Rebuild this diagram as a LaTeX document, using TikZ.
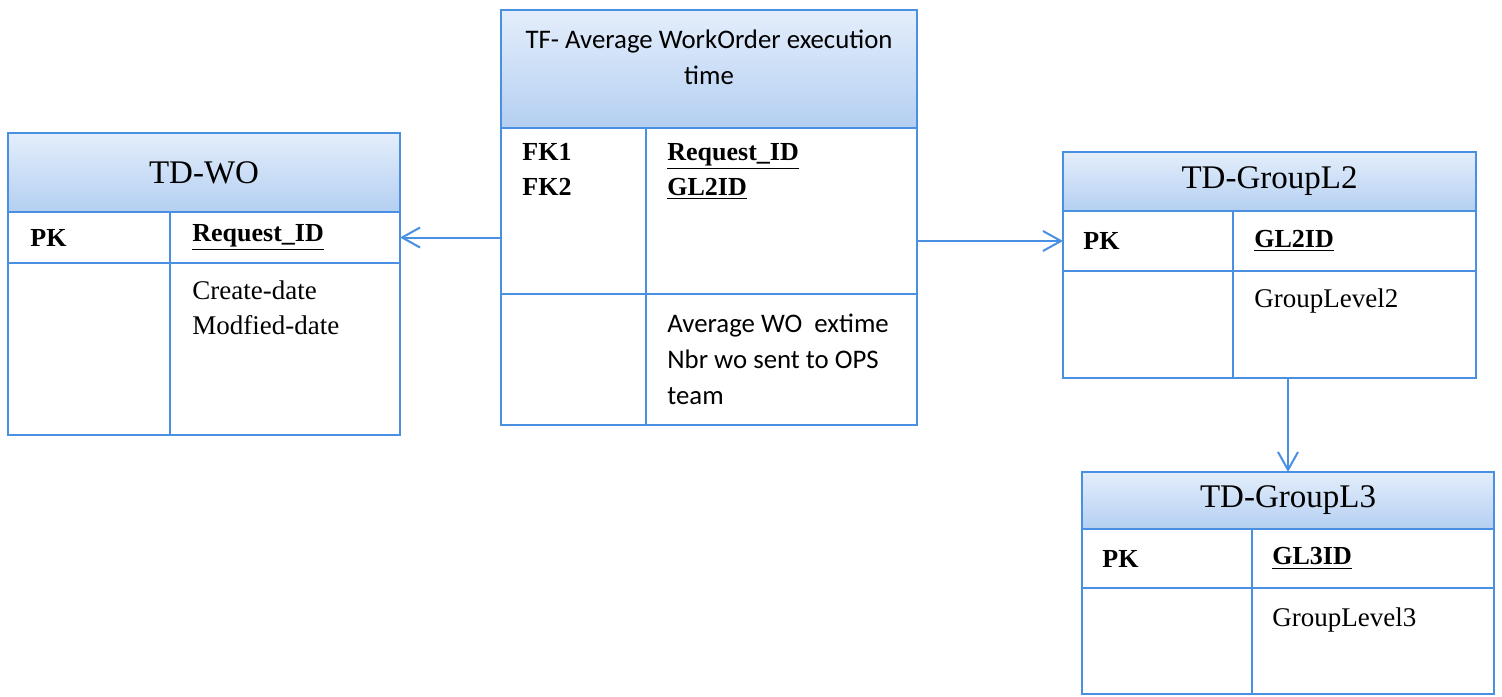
\documentclass[tikz,border=0pt]{standalone}
\usepackage{fontspec}
\setmainfont{Liberation Serif}
\newfontfamily\calibri{Carlito}
\usetikzlibrary{positioning,arrows.meta}

\definecolor{tblue}{RGB}{74,144,226}
\definecolor{hdtop}{RGB}{228,238,251}
\definecolor{hdbot}{RGB}{180,207,242}

\begin{document}
\begin{tikzpicture}[x=0.5pt, y=-0.5pt,
    head/.style={rectangle, draw=tblue, line width=1pt, top color=hdtop, bottom color=hdbot,
        anchor=north west, inner sep=0pt, outer sep=0pt, font=\fontsize{16.5}{20}\selectfont},
    cell/.style={rectangle, draw=tblue, line width=1pt, fill=white,
        anchor=north west, inner sep=0pt, outer sep=0pt},
    keytxt/.style={inner sep=0pt, anchor=west, align=left, font=\fontsize{13}{17.5}\selectfont\bfseries},
    attrtxt/.style={inner sep=0pt, align=left, font=\fontsize{13.5}{17.5}\selectfont},
    tftxt/.style={inner sep=0pt, align=left, font=\calibri\fontsize{13.4}{18}\selectfont},
    link/.style={draw=tblue, line width=1pt, -{Straight Barb[length=9pt, width=10pt]}}]
    \useasboundingbox (0,0) rectangle (1502,696);

    % TD-WO
    \node[head, minimum width=196pt, minimum height=39.5pt] (wo) at (8,133) {TD-WO};
    \node[cell, minimum width=81pt, minimum height=25.5pt] (wo-pk) at (wo.south west) {};
    \node[cell, minimum width=115pt, minimum height=25.5pt] (wo-key) at (wo-pk.north east) {};
    \node[cell, minimum width=81pt, minimum height=86pt] (wo-fld) at (wo-pk.south west) {};
    \node[cell, minimum width=115pt, minimum height=86pt] (wo-attr) at (wo-fld.north east) {};
    \node[keytxt, right=11pt of wo-pk.west] (wo-pk-t) {PK};
    \node[keytxt, right=11pt of wo-key.west] (wo-key-t) {\underline{Request\_ID}};
    \node[attrtxt, below right=8.5pt and 11pt of wo-attr.north west] (wo-attr-t) {Create-date\\Modfied-date};

    % TF
    \node[head, minimum width=208pt, minimum height=59pt] (tf) at (501,10) {};
    \node[tftxt, align=center, below=9.5pt of tf.north] (tf-title) {TF- Average WorkOrder execution\\time};
    \node[cell, minimum width=72.5pt, minimum height=83pt] (tf-fk) at (tf.south west) {};
    \node[cell, minimum width=135.5pt, minimum height=83pt] (tf-key) at (tf-fk.north east) {};
    \node[cell, minimum width=72.5pt, minimum height=65.5pt] (tf-fld) at (tf-fk.south west) {};
    \node[cell, minimum width=135.5pt, minimum height=65.5pt] (tf-attr) at (tf-fld.north east) {};
    \node[keytxt, below right=7.5pt and 10.5pt of tf-fk.north west] (tf-fk-t) {FK1\\FK2};
    \node[keytxt, below right=7.5pt and 10.5pt of tf-key.north west] (tf-key-t) {\underline{Request\_ID}\\\underline{GL2ID}};
    \node[tftxt, below right=10pt and 10.5pt of tf-attr.north west] (tf-attr-t) {Average WO\ \ extime\\Nbr wo sent to OPS\\team};

    % TD-GroupL2
    \node[head, minimum width=206.5pt, minimum height=29.5pt] (gl2) at (1063,152) {TD-GroupL2};
    \node[cell, minimum width=85pt, minimum height=30pt] (gl2-pk) at (gl2.south west) {};
    \node[cell, minimum width=121.5pt, minimum height=30pt] (gl2-key) at (gl2-pk.north east) {};
    \node[cell, minimum width=85pt, minimum height=53.5pt] (gl2-fld) at (gl2-pk.south west) {};
    \node[cell, minimum width=121.5pt, minimum height=53.5pt] (gl2-attr) at (gl2-fld.north east) {};
    \node[keytxt, right=10pt of gl2-pk.west] (gl2-pk-t) {PK};
    \node[keytxt, right=10.5pt of gl2-key.west] (gl2-key-t) {\underline{GL2ID}};
    \node[attrtxt, below right=8.5pt and 10.5pt of gl2-attr.north west] (gl2-attr-t) {GroupLevel2};

    % TD-GroupL3
    \node[head, minimum width=206pt, minimum height=28.5pt] (gl3) at (1082,472) {TD-GroupL3};
    \node[cell, minimum width=85pt, minimum height=29.5pt] (gl3-pk) at (gl3.south west) {};
    \node[cell, minimum width=121pt, minimum height=29.5pt] (gl3-key) at (gl3-pk.north east) {};
    \node[cell, minimum width=85pt, minimum height=53pt] (gl3-fld) at (gl3-pk.south west) {};
    \node[cell, minimum width=121pt, minimum height=53pt] (gl3-attr) at (gl3-fld.north east) {};
    \node[keytxt, right=10pt of gl3-pk.west] (gl3-pk-t) {PK};
    \node[keytxt, right=10pt of gl3-key.west] (gl3-key-t) {\underline{GL3ID}};
    \node[attrtxt, below right=9.5pt and 10pt of gl3-attr.north west] (gl3-attr-t) {GroupLevel3};

    % links
    \draw[link] (tf-fk.west |- wo-key.east) -- (wo-key.east);
    \draw[link] (tf-key.east |- gl2-pk.west) -- (gl2-pk.west);
    \draw[link] (gl3.north |- gl2-attr.south) -- (gl3.north);
\end{tikzpicture}
\end{document}
